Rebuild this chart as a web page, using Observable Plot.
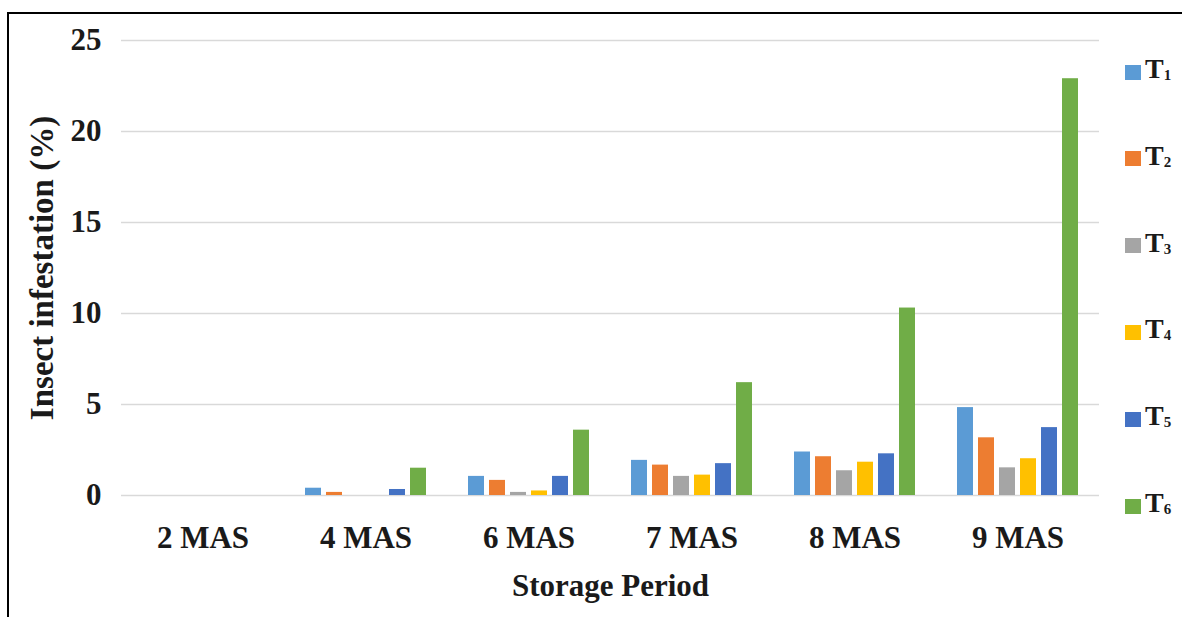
<!DOCTYPE html>
<html>
<head>
<meta charset="utf-8">
<script src="https://cdn.jsdelivr.net/npm/d3@7"></script>
<script src="https://cdn.jsdelivr.net/npm/@observablehq/plot@0.6"></script>
<style>
  html, body { margin: 0; padding: 0; background: #fff; }
  #page { position: relative; width: 1182px; height: 617px; overflow: hidden; }
  #frame { position: absolute; left: 7px; top: 12px; right: 0; bottom: 0;
           border-left: 2px solid #000; border-top: 2px solid #000; pointer-events: none; }
  #chart { position: absolute; left: 0; top: 0; }
  #legend { position: absolute; left: 1125px; top: 0; font-family: "Liberation Serif", serif;
            font-weight: bold; color: #1a1a1a; }
  .item { position: absolute; left: 0; display: flex; align-items: center; white-space: nowrap; height: 30px; }
  .sw { width: 16px; height: 15px; margin-right: 4px; }
  .lab { font-size: 28px; line-height: 30px; }
  .lab sub { font-size: 15px; vertical-align: -2px; }
</style>
</head>
<body>
<div id="page">
  <div id="chart"></div>
  <div id="legend"></div>
  <div id="frame"></div>
</div>
<script>
// Storage periods (months after storage) and treatments
const periods = ["2 MAS", "4 MAS", "6 MAS", "7 MAS", "8 MAS", "9 MAS"];
const treatments = ["T1", "T2", "T3", "T4", "T5", "T6"];
const colors = ["#5B9BD5", "#ED7D31", "#A5A5A5", "#FFC000", "#4472C4", "#70AD47"];
const yTicks = [0, 5, 10, 15, 20, 25];

// Insect infestation (%) per treatment, one value per storage period
const t1 = [0, 0.40, 1.05, 1.93, 2.39, 4.83];
const t2 = [0, 0.17, 0.83, 1.67, 2.13, 3.17];
const t3 = [0, 0, 0.17, 1.05, 1.36, 1.52];
const t4 = [0, 0, 0.25, 1.12, 1.83, 2.02];
const t5 = [0, 0.33, 1.05, 1.75, 2.29, 3.73];
const t6 = [0, 1.50, 3.59, 6.20, 10.30, 22.90];

const series = [t1, t2, t3, t4, t5, t6];
const data = [];
periods.forEach((p, i) => {
  treatments.forEach((t, j) => data.push({period: p, treatment: t, value: series[j][i]}));
});

const font = "'Liberation Serif', 'Times New Roman', serif";

const chart = Plot.plot({
  width: 1182,
  height: 617,
  marginLeft: 120,
  marginRight: 82,
  marginTop: 40,
  marginBottom: 122,
  style: {fontFamily: font, fontWeight: "bold", fontSize: "31px", color: "#1a1a1a", background: "transparent"},
  fx: {domain: periods, paddingInner: 0, paddingOuter: 0},
  x: {domain: treatments, paddingInner: 0.22, paddingOuter: 0.87, axis: null},
  y: {domain: [0, 25]},
  color: {domain: treatments, range: colors},
  marks: [
    Plot.gridY(yTicks, {stroke: "#d9d9d9", strokeOpacity: 1, strokeWidth: 1.5}),
    Plot.axisY(yTicks, {tickSize: 0, tickPadding: 20, fontSize: 31,
      label: null}),
    Plot.axisY({tickSize: 0, ticks: [], fontSize: 33,
      label: "Insect infestation (%)", labelAnchor: "center", labelOffset: 92, labelArrow: false}),
    Plot.axisFx({anchor: "bottom", tickSize: 0, tickPadding: 30, fontSize: 31,
      label: "Storage Period", labelAnchor: "center", labelOffset: 100, labelArrow: false}),
    Plot.barY(data, {fx: "period", x: "treatment", y: "value", fill: "treatment"})
  ]
});
document.getElementById("chart").appendChild(chart);

// Vertical legend on the right
const legend = document.getElementById("legend");
const legendTop = 72, legendStep = 86.8;
treatments.forEach((t, j) => {
  const item = document.createElement("div");
  item.className = "item";
  item.style.top = (legendTop + j * legendStep - 15) + "px";
  item.innerHTML = `<div class="sw" style="background:${colors[j]}"></div>` +
    `<span class="lab">${t[0]}<sub>${t.slice(1)}</sub></span>`;
  legend.appendChild(item);
});
</script>
</body>
</html>
